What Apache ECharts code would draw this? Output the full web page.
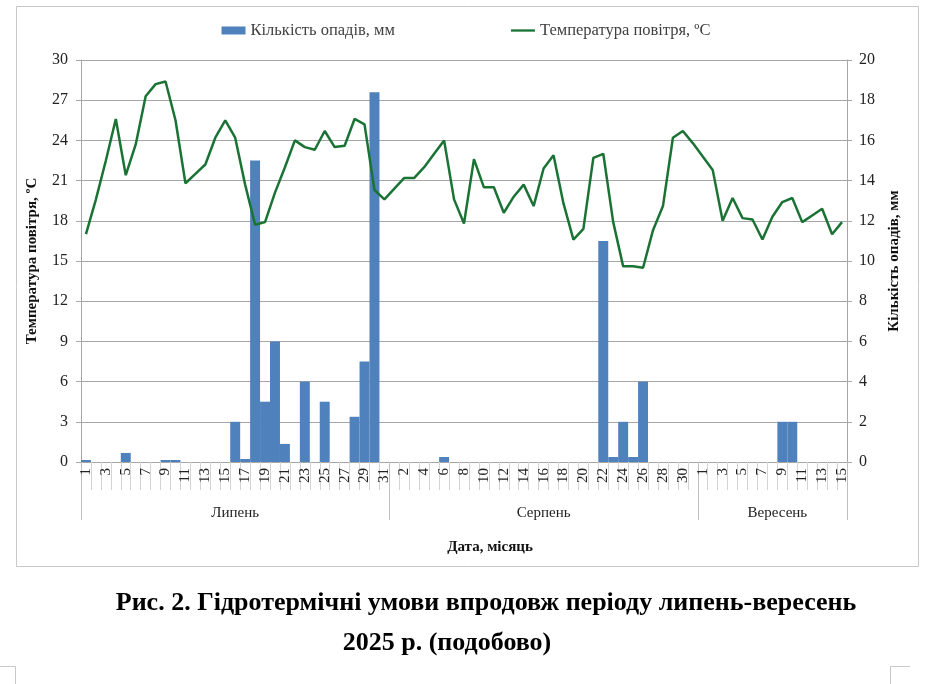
<!DOCTYPE html>
<html>
<head>
<meta charset="utf-8">
<script src="https://cdn.jsdelivr.net/npm/echarts@6/dist/echarts.min.js"></script>
<style>
  html, body { margin: 0; padding: 0; background: #fff; }
  #chart { width: 932px; height: 684px; }
</style>
</head>
<body>
<div id="chart"></div>
<script>
// місяці та кількість днів у кожному
const months = ["Липень", "Серпень", "Вересень"]
const monthDays = [31, 31, 15]

// температура повітря, ºС (подобово)
const tempJul = [17.0, 19.6, 22.5, 25.6, 21.4, 23.7, 27.3, 28.2, 28.4, 25.5, 20.8, 21.5, 22.2, 24.2, 25.5, 24.2,
  20.7, 17.7, 17.9, 20.1, 22.0, 24.0, 23.5, 23.3, 24.7, 23.5, 23.6, 25.6, 25.2, 20.3, 19.6]
const tempAug = [20.4, 21.2, 21.2, 22.0, 23.0, 24.0, 19.6, 17.8, 22.6, 20.5, 20.5, 18.6, 19.8, 20.7, 19.1, 21.9,
  22.9, 19.3, 16.6, 17.4, 22.7, 23.0, 17.9, 14.6, 14.6, 14.5, 17.3, 19.1, 24.2, 24.7, 23.8]
const tempSep = [22.8, 21.8, 18.0, 19.7, 18.2, 18.1, 16.6, 18.3, 19.4, 19.7, 17.9, 18.4, 18.9, 17.0, 17.9]

// кількість опадів, мм (подобово)
const rainJul = [0.1, 0, 0, 0, 0.45, 0, 0, 0, 0.1, 0.1, 0, 0, 0, 0, 0, 2.0,
  0.15, 15.0, 3.0, 6.0, 0.9, 0, 4.0, 0, 3.0, 0, 0, 2.25, 5.0, 18.4, 0]
const rainAug = [0, 0, 0, 0, 0, 0.25, 0, 0, 0, 0, 0, 0, 0, 0, 0, 0,
  0, 0, 0, 0, 0, 11.0, 0.25, 2.0, 0.25, 4.0, 0, 0, 0, 0, 0]
const rainSep = [0, 0, 0, 0, 0, 0, 0, 0, 2.0, 2.0, 0, 0, 0, 0, 0]

// підписи осей
const tempTicks = { min: 0, max: 30, interval: 3 }
const rainTicks = { min: 0, max: 20, interval: 2 }

const temp = tempJul.concat(tempAug, tempSep)
const rain = rainJul.concat(rainAug, rainSep)

// дні та межі місяців
let days = []
let monthStart = []
let monthMid = {}
monthDays.forEach((n, m) => {
  monthStart.push(days.length)
  monthMid[days.length + Math.floor((n - 1) / 2)] = m
  for (let d = 1; d <= n; d++) days.push(String(d))
})

const serif = "Liberation Serif"
const gridColor = "#a6a6a6"

let option = {
  animation: false,
  textStyle: { fontFamily: serif },
  grid: {
    left: 81,
    right: 85,
    top: 60,
    bottom: 222
  },
  legend: {
    top: 17,
    left: "center",
    itemGap: 116,
    itemWidth: 24,
    itemHeight: 8,
    textStyle: { fontFamily: serif, fontSize: 16.5, color: "#404040" },
    data: [
      { name: "Кількість опадів, мм", icon: "rect" },
      { name: "Температура повітря, ºС", icon: "path://M0,0 L25,0 L25,2.4 L0,2.4 Z" }
    ]
  },
  xAxis: [
    {
      type: "category",
      data: days,
      axisLine: { show: true, lineStyle: { color: gridColor } },
      axisTick: {
        show: true,
        interval: 0,
        length: 28,
        lineStyle: { color: "#d4d4d4" }
      },
      axisLabel: {
        interval: 1,
        rotate: 90,
        fontSize: 15,
        margin: 6,
        color: "#222",
        fontFamily: serif
      }
    },
    {
      type: "category",
      data: days,
      position: "bottom",
      axisLine: { show: false },
      axisTick: {
        show: true,
        interval: (i) => monthStart.indexOf(i) >= 0,
        length: 58,
        lineStyle: { color: "#bfbfbf" }
      },
      axisLabel: {
        interval: (i) => monthMid[i] !== undefined,
        margin: 44,
        fontSize: 15,
        color: "#222",
        fontFamily: serif,
        formatter: (v, i) => {
          let m = monthMid[i]
          return m === months.length - 1 ? "{s|" + months[m] + "}" : months[m]
        },
        rich: { s: { fontSize: 15, fontFamily: serif, color: "#222", padding: [0, 0, 0, 10] } }
      }
    }
  ],
  yAxis: [
    {
      type: "value",
      min: tempTicks.min,
      max: tempTicks.max,
      interval: tempTicks.interval,
      name: "Температура повітря, ºС",
      nameLocation: "middle",
      nameRotate: 90,
      nameGap: 41,
      nameTextStyle: { fontFamily: serif, fontSize: 15, fontWeight: "bold", color: "#111" },
      axisLine: { show: true, lineStyle: { color: gridColor } },
      axisTick: { show: true, length: 5, lineStyle: { color: gridColor } },
      axisLabel: { fontSize: 16, margin: 13, color: "#222", fontFamily: serif },
      splitLine: { lineStyle: { color: gridColor } }
    },
    {
      type: "value",
      position: "right",
      min: rainTicks.min,
      max: rainTicks.max,
      interval: rainTicks.interval,
      name: "Кількість опадів, мм",
      nameLocation: "middle",
      nameRotate: 90,
      nameGap: 40,
      nameTextStyle: { fontFamily: serif, fontSize: 15, fontWeight: "bold", color: "#111" },
      axisLine: { show: true, lineStyle: { color: gridColor } },
      axisTick: { show: true, length: 5, lineStyle: { color: gridColor } },
      axisLabel: { fontSize: 16, margin: 12, color: "#222", fontFamily: serif },
      splitLine: { show: false }
    }
  ],
  series: [
    {
      name: "Кількість опадів, мм",
      type: "bar",
      yAxisIndex: 1,
      barCategoryGap: "0%",
      itemStyle: { color: "#4f81bd" },
      data: rain
    },
    {
      name: "Температура повітря, ºС",
      type: "line",
      yAxisIndex: 0,
      symbol: "none",
      lineStyle: { color: "#1a7335", width: 2.5 },
      itemStyle: { color: "#1a7335" },
      data: temp
    }
  ],
  graphic: [
    {
      type: "rect",
      shape: { x: 16.5, y: 6.5, width: 902, height: 560 },
      style: { fill: null, stroke: "#c8c8c8", lineWidth: 1 },
      silent: true
    },
    {
      type: "text",
      x: 490, y: 547,
      style: { text: "Дата, місяць", font: "bold 15px 'Liberation Serif'", fill: "#111", align: "center", verticalAlign: "middle" }
    },
    {
      type: "text",
      x: 486, y: 603,
      style: { text: "Рис. 2. Гідротермічні умови впродовж періоду липень-вересень", font: "bold 26px 'Liberation Serif'", fill: "#000", align: "center", verticalAlign: "middle" }
    },
    {
      type: "text",
      x: 447, y: 643,
      style: { text: "2025 р. (подобово)", font: "bold 26px 'Liberation Serif'", fill: "#000", align: "center", verticalAlign: "middle" }
    },
    {
      type: "polyline",
      shape: { points: [[0, 666.5], [15.5, 666.5], [15.5, 684]] },
      style: { stroke: "#c8c8c8", lineWidth: 1, fill: null }
    },
    {
      type: "polyline",
      shape: { points: [[910, 666.5], [890.5, 666.5], [890.5, 684]] },
      style: { stroke: "#c8c8c8", lineWidth: 1, fill: null }
    }
  ]
}

let chartEl = echarts.init(document.getElementById("chart"))
chartEl.setOption(option)
window.addEventListener("resize", () => chartEl.resize())
</script>
</body>
</html>
